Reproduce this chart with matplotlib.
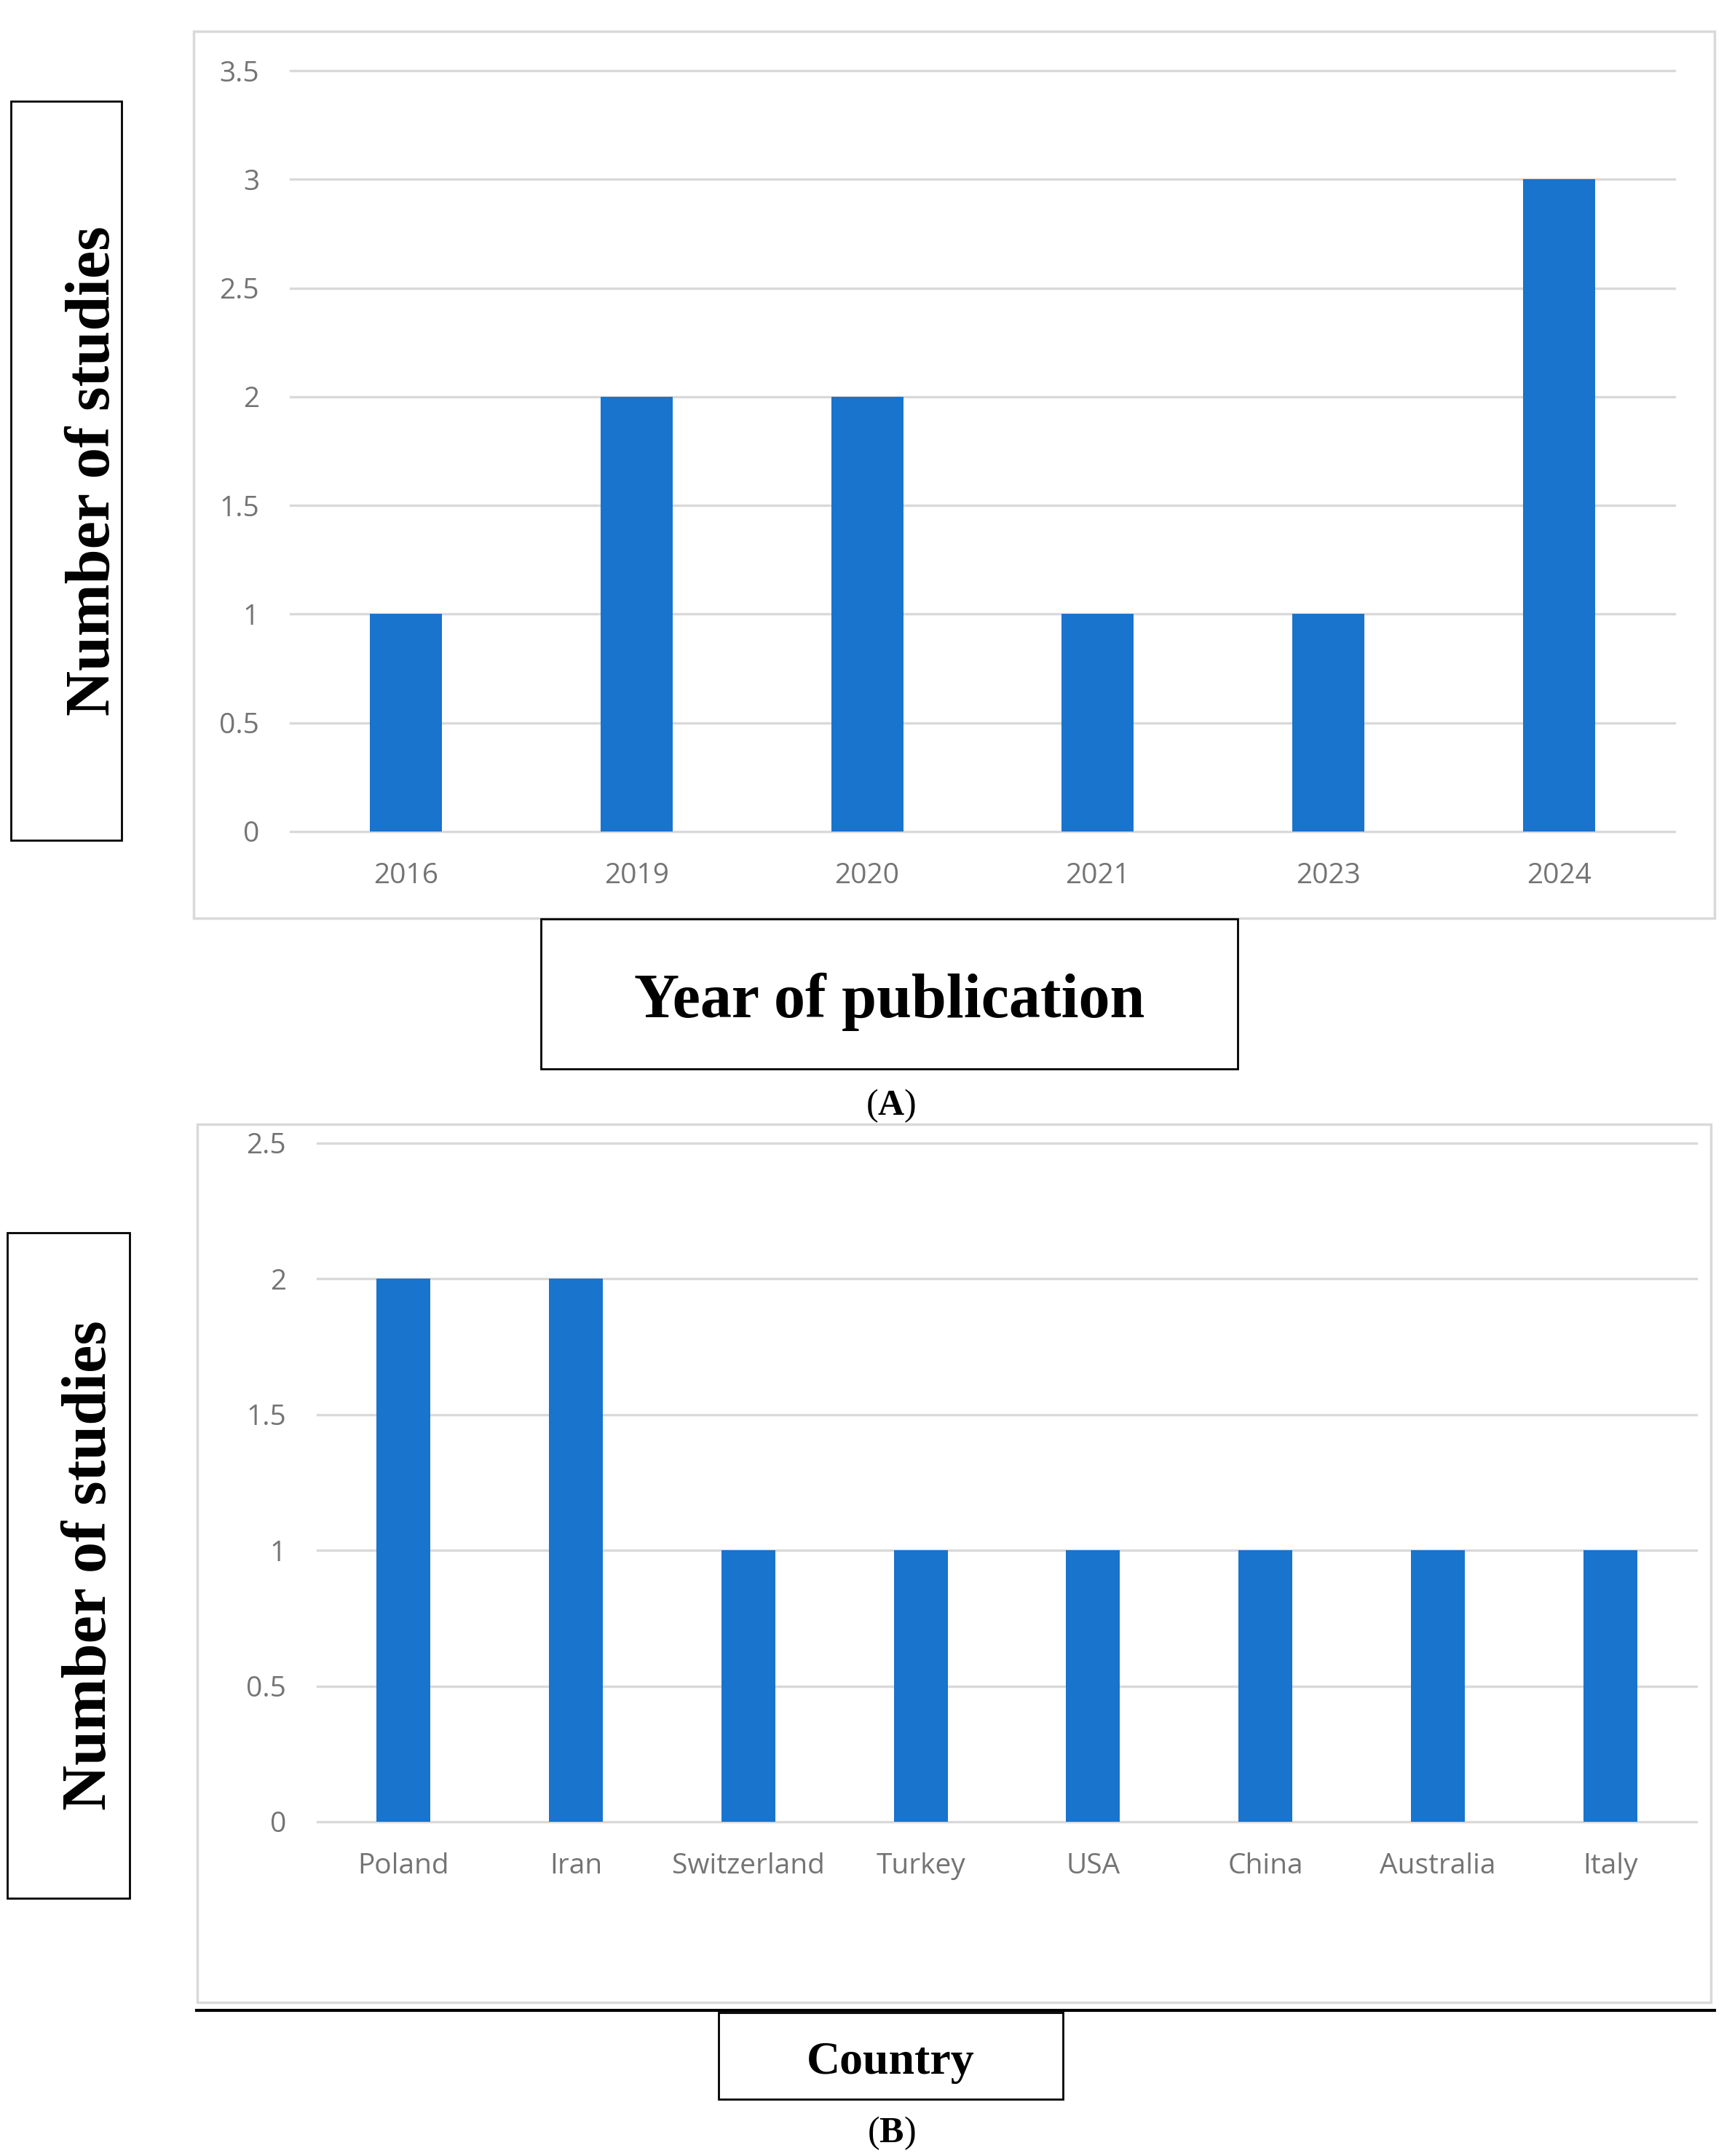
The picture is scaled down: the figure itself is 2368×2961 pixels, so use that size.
import matplotlib
matplotlib.use("Agg")
import matplotlib.pyplot as plt
from matplotlib.patches import Rectangle
from matplotlib.lines import Line2D
from matplotlib.ticker import FuncFormatter

plt.rcParams['mathtext.fontset'] = 'custom'
plt.rcParams['mathtext.rm'] = 'Liberation Serif'
plt.rcParams['mathtext.bf'] = 'Liberation Serif:bold'

# ---- data ----
years = ['2016', '2019', '2020', '2021', '2023', '2024']
studies_by_year = [1, 2, 2, 1, 1, 3]
year_ticks = [0, 0.5, 1, 1.5, 2, 2.5, 3, 3.5]

countries = ['Poland', 'Iran', 'Switzerland', 'Turkey', 'USA', 'China', 'Australia', 'Italy']
studies_by_country = [2, 2, 1, 1, 1, 1, 1, 1]
country_ticks = [0, 0.5, 1, 1.5, 2, 2.5]

# ---- figure ----
W, H = 2368, 2961
fig = plt.figure(figsize=(W / 100, H / 100), dpi=100)

BAR = '#1874CD'
GRID = '#d9d9d9'
TICK = '#747474'
SERIF = ['Liberation Serif', 'DejaVu Serif']
SANS = ['Open Sans', 'DejaVu Sans']


def fx(x):
    return x / W


def fy(y):
    return 1 - y / H


def rect(x0, y0, x1, y1, color, lw):
    fig.add_artist(Rectangle((fx(x0), fy(y1)), fx(x1) - fx(x0), fy(y0) - fy(y1),
                             transform=fig.transFigure, fill=False,
                             edgecolor=color, linewidth=lw, zorder=0))


def make_axes(x0, y0, x1, y1):
    return fig.add_axes([fx(x0), fy(y1), fx(x1) - fx(x0), fy(y0) - fy(y1)])


def style(ax, cats, vals, ticks):
    n = len(cats)
    ax.bar(range(n), vals, width=0.3125, color=BAR, zorder=3)
    ax.set_xlim(-0.5, n - 0.5)
    ax.set_ylim(ticks[0], ticks[-1])
    ax.set_yticks(ticks)
    ax.yaxis.set_major_formatter(FuncFormatter(lambda v, p: f'{v:g}'))
    ax.set_xticks(range(n))
    ax.set_xticklabels(cats)
    for s in ax.spines.values():
        s.set_visible(False)
    ax.set_axisbelow(True)
    ax.yaxis.grid(True, color=GRID, linewidth=2.4)
    for gl in ax.get_ygridlines():
        gl.set_clip_on(False)
    ax.tick_params(axis='both', length=0, labelsize=28, labelcolor=TICK)
    ax.tick_params(axis='x', pad=30)
    ax.tick_params(axis='y', pad=31)
    for lab in ax.get_xticklabels() + ax.get_yticklabels():
        lab.set_family(SANS)
    ax.patch.set_alpha(0)


# ---- panel A ----
rect(266, 43, 2355, 1261, GRID, 2.5)
axA = make_axes(399, 97, 2300, 1142)
style(axA, years, studies_by_year, year_ticks)

rect(15, 139, 167, 1154, 'black', 2.0)
fig.text(fx(150), fy(647), 'Number of studies', rotation=90, rotation_mode='anchor',
         ha='center', va='baseline', fontsize=62, fontweight='bold', family=SERIF)
rect(743, 1262, 1700, 1468, 'black', 2.0)
fig.text(fx(1222), fy(1397), 'Year of publication', ha='center', va='baseline',
         fontsize=62, fontweight='bold', family=SERIF)
fig.text(fx(1224), fy(1531), r'($\mathbf{A}$)', ha='center', va='baseline',
         fontsize=36, family=SERIF)

# ---- panel B ----
rect(271, 1544, 2350, 2750, GRID, 2.5)
axB = make_axes(436, 1570, 2330, 2502)
style(axB, countries, studies_by_country, country_ticks)

fig.add_artist(Line2D([fx(270), fx(2355)], [fy(2761), fy(2761)], color='black',
                      linewidth=3.0, transform=fig.transFigure))
rect(10, 1693, 178, 2607, 'black', 2.0)
fig.text(fx(145), fy(2150), 'Number of studies', rotation=90, rotation_mode='anchor',
         ha='center', va='baseline', fontsize=62, fontweight='bold', family=SERIF)
rect(987, 2764, 1460, 2883, 'black', 2.0)
fig.text(fx(1223), fy(2848), 'Country', ha='center', va='baseline',
         fontsize=46, fontweight='bold', family=SERIF)
fig.text(fx(1224), fy(2942), r'($\mathbf{B}$)', ha='center', va='baseline',
         fontsize=36, family=SERIF)

fig.savefig('out.png', dpi=100, facecolor='white')
